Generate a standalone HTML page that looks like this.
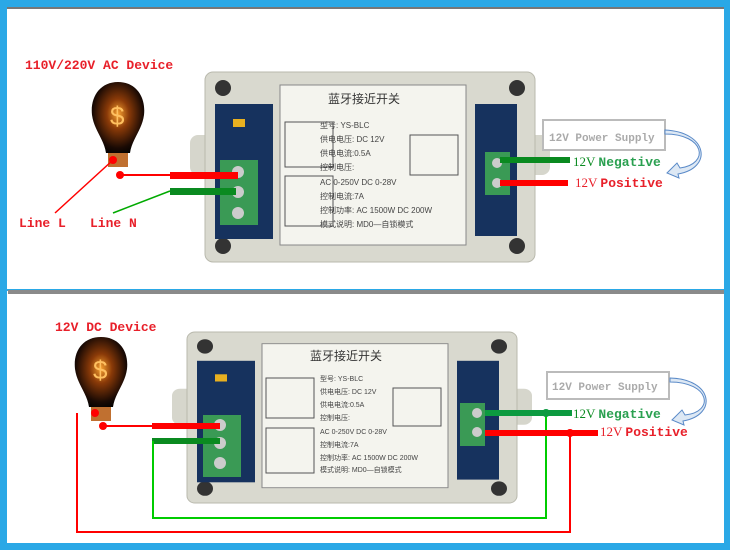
<!DOCTYPE html>
<html><head><meta charset="utf-8"><style>
html,body{margin:0;padding:0;background:#fff}
svg{display:block}
.m{font-family:"Liberation Mono","DejaVu Sans Mono",monospace;font-weight:bold}
.c{font-family:"Liberation Sans","Noto Sans CJK SC",sans-serif}
</style></head><body>
<svg width="730" height="550" viewBox="0 0 730 550" xmlns="http://www.w3.org/2000/svg">
<defs>
<radialGradient id="bulb" cx="0.5" cy="0.45" r="0.6">
<stop offset="0" stop-color="#f6a030"/><stop offset="0.35" stop-color="#8a3a08"/><stop offset="0.8" stop-color="#1a0a04"/><stop offset="1" stop-color="#000"/>
</radialGradient>
<g id="box">
<rect x="-15" y="63" width="24" height="40" rx="8" fill="#d6d6cc"/>
<rect x="321" y="63" width="24" height="40" rx="8" fill="#d6d6cc"/>
<rect x="0" y="0" width="330" height="190" rx="8" fill="#d9d9cf" stroke="#b9b9ad"/>
<circle cx="18" cy="16" r="8" fill="#333"/><circle cx="312" cy="16" r="8" fill="#333"/>
<circle cx="18" cy="174" r="8" fill="#333"/><circle cx="312" cy="174" r="8" fill="#333"/>
<rect x="10" y="32" width="58" height="135" fill="#16325e"/>
<rect x="270" y="32" width="42" height="132" fill="#16325e"/>
<rect x="28" y="47" width="12" height="8" fill="#e8b020"/>
<rect x="75" y="13" width="186" height="160" fill="#f4f4ee" stroke="#888"/>
</g>
</defs>
<rect width="730" height="550" fill="#2aa8e6"/>
<rect x="7" y="7" width="717" height="282" fill="#fff"/>
<rect x="7" y="291" width="717" height="252" fill="#fff"/>
<rect x="8" y="290" width="716" height="4" fill="#8a8a8a"/>
<rect x="7" y="7" width="717" height="2" fill="#777"/>

<!-- TOP -->
<text x="25" y="69" class="m" font-size="13" fill="#e8202a">110V/220V AC Device</text>
<path d="M118 82c-18 0-28 15-26 33 2 15 12 24 14 38h24c2-14 12-23 14-38 2-18-8-33-26-33z" fill="url(#bulb)"/>
<rect x="108" y="153" width="20" height="14" fill="#c07030"/>
<text x="110" y="125" font-size="26" fill="#ffc060" class="c">$</text>
<use href="#box" x="205" y="72"/>
<text x="328" y="103" class="c" font-size="12" fill="#333">蓝牙接近开关</text>
<g class="c" font-size="8" fill="#444">
<text x="320" y="128">型号: YS-BLC</text><text x="320" y="142">供电电压: DC 12V</text><text x="320" y="156">供电电流:0.5A</text><text x="320" y="170">控制电压:</text>
<text x="320" y="185">AC 0-250V DC 0-28V</text><text x="320" y="199">控制电流:7A</text><text x="320" y="213">控制功率: AC 1500W DC 200W</text><text x="320" y="227">模式说明: MD0—自锁模式</text>
</g>
<rect x="285" y="122" width="48" height="45" fill="none" stroke="#555"/><rect x="285" y="176" width="48" height="50" fill="none" stroke="#555"/>
<rect x="410" y="135" width="48" height="40" fill="none" stroke="#555"/>
<rect x="220" y="160" width="38" height="65" fill="#3a9a55"/>
<circle cx="238" cy="172" r="6" fill="#ccc"/><circle cx="238" cy="192" r="6" fill="#ccc"/><circle cx="238" cy="213" r="6" fill="#ccc"/>
<rect x="485" y="152" width="25" height="43" fill="#3a9a55"/>
<circle cx="497" cy="163" r="5" fill="#ccc"/><circle cx="497" cy="183" r="5" fill="#ccc"/>
<line x1="120" y1="175" x2="172" y2="175" stroke="#f00" stroke-width="2"/>
<rect x="170" y="172" width="68" height="7" fill="#f00"/>
<rect x="170" y="188" width="66" height="7" fill="#0a8a20"/>
<line x1="113" y1="160" x2="55" y2="213" stroke="#f00" stroke-width="1.5"/>
<line x1="170" y1="191" x2="113" y2="213" stroke="#0a0" stroke-width="1.5"/>
<circle cx="113" cy="160" r="4" fill="#f00"/><circle cx="120" cy="175" r="4" fill="#f00"/>
<text x="19" y="227" class="m" font-size="13" fill="#e8202a">Line L</text>
<text x="90" y="227" class="m" font-size="13" fill="#e8202a">Line N</text>
<rect x="500" y="157" width="70" height="6" fill="#0a8a20"/>
<rect x="500" y="180" width="68" height="6" fill="#f00"/>
<rect x="543" y="120" width="122" height="30" fill="#fff" stroke="#bbb" stroke-width="2"/>
<text x="549" y="141" class="m" font-size="11" font-weight="normal" fill="#aaa">12V Power Supply</text>
<path d="M665 134c40 0 45 30 15 34l-3-5-10 10 12 5-1-4c35-6 30-42-13-44z" fill="#dde8f4" stroke="#5a8ac8"/>
<text x="573" y="166" font-family="Liberation Serif,serif" font-size="13" fill="#0a8a20">12V <tspan class="m" font-weight="normal" fill="#2aa050">Negative</tspan></text>
<text x="575" y="187" font-family="Liberation Serif,serif" font-size="13" fill="#e8202a">12V <tspan class="m" font-weight="normal">Positive</tspan></text>

<!-- BOTTOM -->
<text x="55" y="331" class="m" font-size="13" fill="#e8202a">12V DC Device</text>
<path d="M101 337c-18 0-28 14-26 32 2 15 12 24 14 38h24c2-14 12-23 14-38 2-18-8-32-26-32z" fill="url(#bulb)"/>
<rect x="91" y="407" width="20" height="14" fill="#c07030"/>
<text x="93" y="379" font-size="26" fill="#ffc060" class="c">$</text>
<use href="#box" x="187" y="332" transform="translate(187 332) scale(1 0.9) translate(-187 -332)"/>
<text x="310" y="360" class="c" font-size="12" fill="#333">蓝牙接近开关</text>
<g class="c" font-size="7" fill="#444">
<text x="320" y="381">型号: YS-BLC</text><text x="320" y="394">供电电压: DC 12V</text><text x="320" y="407">供电电流:0.5A</text><text x="320" y="420">控制电压:</text>
<text x="320" y="434">AC 0-250V DC 0-28V</text><text x="320" y="447">控制电流:7A</text><text x="320" y="460">控制功率: AC 1500W DC 200W</text><text x="320" y="472">模式说明: MD0—自锁模式</text>
</g>
<rect x="266" y="378" width="48" height="40" fill="none" stroke="#555"/><rect x="266" y="428" width="48" height="45" fill="none" stroke="#555"/>
<rect x="393" y="388" width="48" height="38" fill="none" stroke="#555"/>
<rect x="203" y="415" width="38" height="62" fill="#3a9a55"/>
<circle cx="220" cy="425" r="6" fill="#ccc"/><circle cx="220" cy="443" r="6" fill="#ccc"/><circle cx="220" cy="463" r="6" fill="#ccc"/>
<rect x="460" y="403" width="25" height="43" fill="#3a9a55"/>
<circle cx="477" cy="413" r="5" fill="#ccc"/><circle cx="477" cy="432" r="5" fill="#ccc"/>
<line x1="103" y1="426" x2="155" y2="426" stroke="#f00" stroke-width="2"/>
<rect x="152" y="423" width="68" height="6" fill="#f00"/>
<rect x="152" y="438" width="68" height="6" fill="#0a8a20"/>
<polyline points="77,413 77,532 570,532 570,432" fill="none" stroke="#f00" stroke-width="2"/>
<polyline points="153,441 153,518 546,518 546,412" fill="none" stroke="#0c0" stroke-width="2"/>
<circle cx="95" cy="413" r="4" fill="#f00"/><circle cx="103" cy="426" r="4" fill="#f00"/>
<rect x="485" y="410" width="87" height="6" fill="#0c9a40"/>
<rect x="485" y="430" width="113" height="6" fill="#f00"/>
<circle cx="546" cy="413" r="4" fill="#0c9a40"/><circle cx="570" cy="433" r="4" fill="#f00"/>
<rect x="547" y="372" width="122" height="27" fill="#fff" stroke="#bbb" stroke-width="2"/>
<text x="552" y="390" class="m" font-size="11" font-weight="normal" fill="#aaa">12V Power Supply</text>
<path d="M670 382c40 0 45 30 15 33l-3-5-10 10 12 5-1-4c35-6 30-42-13-43z" fill="#dde8f4" stroke="#5a8ac8"/>
<text x="573" y="418" font-family="Liberation Serif,serif" font-size="13" fill="#0a8a20">12V <tspan class="m" font-weight="normal" fill="#2aa050">Negative</tspan></text>
<text x="600" y="436" font-family="Liberation Serif,serif" font-size="13" fill="#e8202a">12V <tspan class="m" font-weight="normal">Positive</tspan></text>
</svg>
</body></html>
